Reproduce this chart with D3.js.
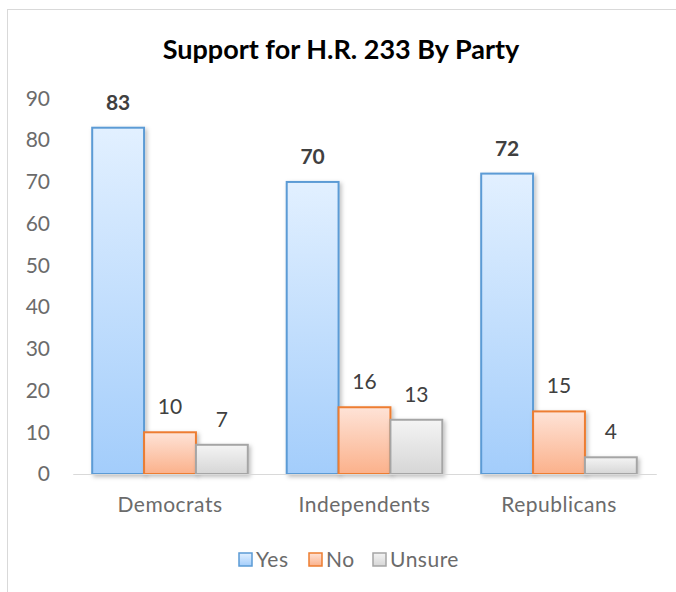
<!DOCTYPE html>
<html>
<head>
<meta charset="utf-8">
<style>
  body { margin: 0; background: #fff; }
  svg { font-family: Lato, 'Open Sans', sans-serif; }
  .y .domain, .y .tick line { display: none; }
  .y .tick text { font-family: Lato, sans-serif; font-size: 21px; fill: #6b6b6b; }
  .x .domain { stroke: #d9d9d9; }
  .x .tick line { display: none; }
  .x .tick text { font-family: Lato, sans-serif; font-size: 21px; fill: #6b6b6b; letter-spacing: 0.5px; }
</style>
</head>
<body>
<svg width="676" height="592"></svg>
<script src="https://d3js.org/d3.v7.min.js"></script>
<script>
  // data
  let parties = ["Democrats", "Independents", "Republicans"];
  let answers = ["Yes", "No", "Unsure"];
  let yes = [83, 70, 72];
  let no = [10, 16, 15];
  let unsure = [7, 13, 4];
  let yTicks = [0, 10, 20, 30, 40, 50, 60, 70, 80, 90];

  let series = [yes, no, unsure];
  let colors = [
    { top: "#e2f0ff", bottom: "#a3cdfb", stroke: "#5b9bd5" },
    { top: "#fee3d7", bottom: "#fbb18b", stroke: "#ed7d31" },
    { top: "#f4f4f4", bottom: "#d6d6d6", stroke: "#a5a5a5" }
  ];

  let svg = d3.select("svg");

  // chart area border
  svg.append("rect")
    .attr("x", 7.5).attr("y", 9.5)
    .attr("width", 700).attr("height", 600)
    .style("fill", "none")
    .style("stroke", "#d9d9d9");

  let defs = svg.append("defs");
  colors.forEach(function (c, i) {
    let g = defs.append("linearGradient")
      .attr("id", "grad" + i)
      .attr("x1", 0).attr("y1", 0).attr("x2", 0).attr("y2", 1);
    g.append("stop").attr("offset", "0%").attr("stop-color", c.top);
    g.append("stop").attr("offset", "100%").attr("stop-color", c.bottom);
  });
  let shadow = defs.append("filter").attr("id", "shadow")
    .attr("x", "-20%").attr("y", "-20%").attr("width", "150%").attr("height", "150%");
  shadow.append("feDropShadow")
    .attr("dx", 2).attr("dy", 2).attr("stdDeviation", 2)
    .attr("flood-color", "#000").attr("flood-opacity", 0.25);

  let x = d3.scaleBand()
    .domain(parties)
    .range([72.75, 656.25])
    .paddingInner(0.2)
    .paddingOuter(0.1);

  let x1 = d3.scaleBand()
    .domain(answers)
    .range([0, x.bandwidth()]);

  let y = d3.scaleLinear()
    .domain([0, 90])
    .range([474, 98.5]);

  svg.append("g")
    .attr("class", "y axis")
    .attr("transform", "translate(51,0)")
    .call(d3.axisLeft(y).tickValues(yTicks).tickSize(0).tickPadding(1));

  svg.append("text")
    .attr("x", 341).attr("y", 59)
    .attr("text-anchor", "middle")
    .style("font-size", "27px")
    .style("font-weight", "bold")
    .style("fill", "#000")
    .text("Support for H.R. 233 By Party");

  let groups = svg.selectAll(".party")
    .data(parties)
    .join("g")
    .attr("class", "party")
    .attr("transform", d => `translate(${x(d)},0)`);

  answers.forEach(function (a, i) {
    groups.append("rect")
      .attr("x", x1(a))
      .attr("y", (d, j) => y(series[i][j]))
      .attr("width", x1.bandwidth())
      .attr("height", (d, j) => y(0) - y(series[i][j]))
      .style("fill", `url(#grad${i})`)
      .style("stroke", colors[i].stroke)
      .style("stroke-width", 2)
      .attr("filter", "url(#shadow)");

    groups.append("text")
      .attr("x", x1(a) + x1.bandwidth() / 2)
      .attr("y", (d, j) => y(series[i][j]) - 18)
      .attr("text-anchor", "middle")
      .style("font-size", "21px")
      .style("font-weight", i === 0 ? "bold" : "normal")
      .style("fill", "#404040")
      .text((d, j) => series[i][j]);
  });

  svg.append("g")
    .attr("class", "x axis")
    .attr("transform", "translate(0,474)")
    .call(d3.axisBottom(x).tickSize(0).tickPadding(23));

  // legend
  let legendX = [239, 309, 373];
  let legend = svg.selectAll(".legend")
    .data(answers)
    .join("g")
    .attr("class", "legend")
    .attr("transform", (d, i) => `translate(${legendX[i]},553)`);

  legend.append("rect")
    .attr("x", 0).attr("y", 0)
    .attr("width", 13).attr("height", 13)
    .style("fill", (d, i) => `url(#grad${i})`)
    .style("stroke", (d, i) => colors[i].stroke)
    .style("stroke-width", 1.5);

  legend.append("text")
    .attr("x", 17).attr("y", 14)
    .style("font-size", "21px")
    .style("letter-spacing", "0.5px")
    .style("fill", "#6b6b6b")
    .text(d => d);
</script>
</body>
</html>
